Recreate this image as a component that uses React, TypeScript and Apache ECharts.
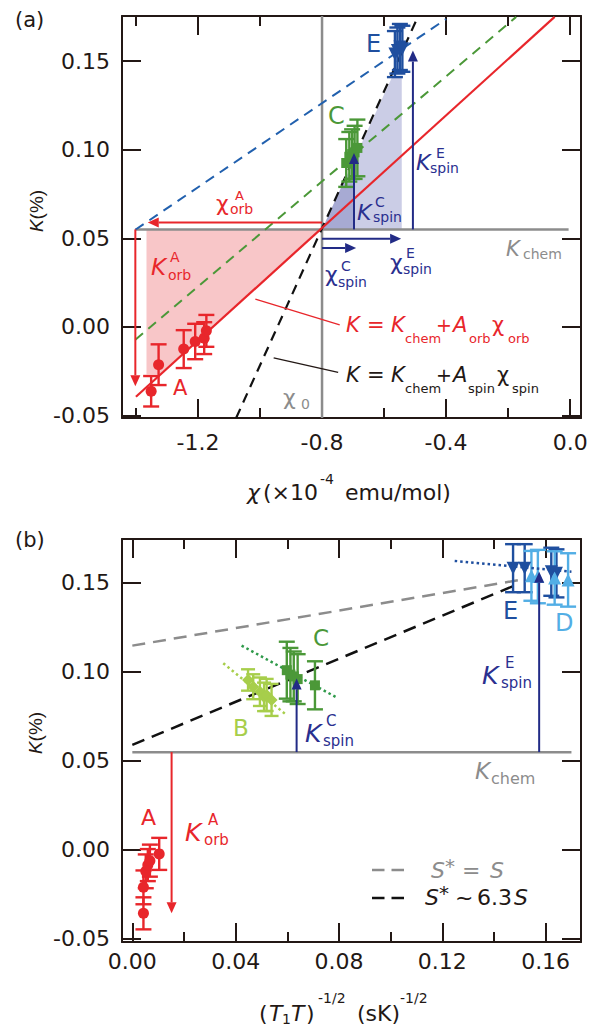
import React, { useEffect, useRef } from "react";
import * as echarts from "echarts";

const FONT = "'DejaVu Sans', 'Liberation Sans', sans-serif";
const FONT_R = "'Liberation Sans', Arial, sans-serif";
const INK = "#231815";
const RED = "#e8262b";
const PINK = "#f8c6c8";
const LAV = "#cbcde6";
const LAV_DARK = "#a7aad3";
const NAVY = "#222b86";
const NAVY_T = "#2a2f8f";
const BLUE_E = "#1f4f9f";
const BLUE_DASH = "#2160ae";
const LIGHT_BLUE = "#52aee5";
const GREEN = "#4b9838";
const GREEN_DOT = "#2f9a4a";
const LIME = "#a7ce4b";
const GRAY = "#8c8c8c";

// ---------------- panel (a): K vs chi ----------------
const chiRange = [-1.445, 0.035];
const kRangeA = [-0.0515, 0.1755];
const chiMajorTicks = [-1.2, -0.8, -0.4, 0.0];
const chiMinorTicks = [-1.4, -1.0, -0.6, -0.2];
const kTicks = [-0.05, 0.0, 0.05, 0.1, 0.15];

const chiA = [-1.351, -1.327, -1.246, -1.209, -1.18, -1.173];
const kA_a = [-0.0364, -0.0214, -0.0126, -0.0083, -0.0064, -0.0023];
const errA_a = [0.0086, 0.0115, 0.0107, 0.01, 0.009, 0.009];

const chiC = [-0.722, -0.712, -0.703, -0.695, -0.686];
const kC_a = [0.0925, 0.096, 0.0975, 0.0985, 0.101];
const errC_a = [0.0135, 0.014, 0.014, 0.015, 0.016];

const chiE = [-0.565, -0.557, -0.549, -0.541];
const kE_a = [0.154, 0.156, 0.158, 0.157];
const errE_a = [0.013, 0.013, 0.013, 0.013];

const redLineChi = [-1.4, -0.05];
const redLineK = [-0.0395, 0.175];
const spinLineChi = [-1.077, -0.495];
const spinLineK = [-0.0515, 0.1735];
const blueDashChi = [-1.402, -0.4];
const blueDashK = [0.0548, 0.1738];
const greenDashChi = [-1.402, -0.174];
const greenDashK = [-0.0073, 0.175];
const kchemLineChi = [-1.402, -0.005];
const kchemLineK = [0.055, 0.055];
const chi0LineChi = [-0.8, -0.8];
const chi0LineK = [-0.0515, 0.1755];
const orbPointerChi = [-1.015, -0.743];
const orbPointerK = [0.0156, 0.0011];
const spinPointerChi = [-0.956, -0.748];
const spinPointerK = [-0.0176, -0.0257];

const redShadeChi = [-1.366, -0.8, -1.319, -1.366];
const redShadeK = [0.055, 0.055, -0.027, -0.027];
const shadeEChi = [-0.8, -0.574, -0.543, -0.543];
const shadeEK = [0.055, 0.141, 0.141, 0.055];
const shadeCChi = [-0.8, -0.732, -0.695, -0.695];
const shadeCK = [0.055, 0.081, 0.081, 0.055];

const orbArrowA_x1 = [-0.8, -1.402];
const orbArrowA_y1 = [0.0589, 0.055];
const orbArrowA_x2 = [-1.362, -1.402];
const orbArrowA_y2 = [0.0589, -0.0336];
const spinArrowA_x1 = [-0.8, -0.8, -0.697, -0.507];
const spinArrowA_y1 = [0.0445, 0.0497, 0.055, 0.055];
const spinArrowA_x2 = [-0.69, -0.545, -0.697, -0.507];
const spinArrowA_y2 = [0.0445, 0.0497, 0.0982, 0.156];

// ---------------- panel (b): K vs (T1T)^-1/2 ----------------
const tRange = [-0.004, 0.1737];
const kRangeB = [-0.0517, 0.1747];
const tMajorTicks = [0.0, 0.04, 0.08, 0.12, 0.16];
const tMinorTicks = [0.02, 0.06, 0.1, 0.14];

const tA = [0.0043, 0.0043, 0.0052, 0.006, 0.0068, 0.0104];
const kA_b = [-0.0356, -0.021, -0.012, -0.0085, -0.006, -0.0022];
const errA_b = [0.009, 0.0095, 0.0095, 0.009, 0.009, 0.009];

const tB = [0.0448, 0.0468, 0.0494, 0.051, 0.052, 0.0539];
const kB = [0.0955, 0.0917, 0.0889, 0.086, 0.0871, 0.0843];
const errB = [0.006, 0.007, 0.008, 0.008, 0.009, 0.009];

const tC = [0.0598, 0.0612, 0.0625, 0.064, 0.0707];
const kC_b = [0.101, 0.0985, 0.0975, 0.096, 0.0925];
const errC_b = [0.016, 0.015, 0.014, 0.014, 0.0135];

const tE = [0.1474, 0.1519, 0.1622, 0.1642];
const kE_b = [0.1583, 0.1583, 0.1563, 0.1554];
const errE_b = [0.0135, 0.0135, 0.0135, 0.0135];

const tD = [0.1545, 0.157, 0.1635, 0.1687];
const kD = [0.154, 0.1536, 0.1528, 0.1517];
const errD = [0.014, 0.015, 0.015, 0.015];

const kchemLineT = [0.0, 0.17];
const kchemLineKb = [0.0549, 0.0549];
const grayDashT = [0.0, 0.15];
const grayDashK = [0.1148, 0.1517];
const blackDashT = [0.0, 0.15];
const blackDashK = [0.059, 0.1498];
const blueDotT = [0.1248, 0.17];
const blueDotK = [0.1624, 0.1563];
const greenDotT = [0.0423, 0.0797];
const greenDotK = [0.1148, 0.0852];
const limeDotT = [0.0352, 0.0597];
const limeDotK = [0.1049, 0.0758];

const orbArrowB_x1 = [0.0152];
const orbArrowB_y1 = [0.055];
const orbArrowB_x2 = [0.0152];
const orbArrowB_y2 = [-0.0356];
const spinArrowB_x1 = [0.0636, 0.1575];
const spinArrowB_y1 = [0.055, 0.055];
const spinArrowB_x2 = [0.0636, 0.1575];
const spinArrowB_y2 = [0.0964, 0.1563];

// ---------------- helpers ----------------
const axisLS = { color: INK, width: 2 };

function xAxes(gridIndex: number, range: number[], major: number[], minor: number[], dec: number, margin: number) {
  const base: any = {
    type: "value",
    gridIndex,
    min: range[0],
    max: range[1],
    splitLine: { show: false },
    axisLine: { show: true, onZero: false, lineStyle: axisLS },
  };
  const noLine = { show: false, onZero: false };
  const majorTick = { show: true, inside: true, length: 19, customValues: major, lineStyle: axisLS };
  const minorTick = { show: true, inside: true, length: 10, customValues: minor, lineStyle: axisLS };
  return [
    {
      ...base,
      position: "bottom",
      axisTick: majorTick,
      axisLabel: {
        show: true,
        customValues: major,
        formatter: (v: number) => v.toFixed(dec),
        margin,
        fontSize: 22,
        color: INK,
        fontFamily: FONT,
      },
    },
    { ...base, position: "bottom", axisLine: noLine, axisTick: minorTick, axisLabel: { show: false } },
    { ...base, position: "top", axisTick: majorTick, axisLabel: { show: false } },
    { ...base, position: "top", axisLine: noLine, axisTick: minorTick, axisLabel: { show: false } },
  ];
}

function yAxes(gridIndex: number, range: number[], ticks: number[]) {
  const base: any = {
    type: "value",
    gridIndex,
    min: range[0],
    max: range[1],
    splitLine: { show: false },
    axisLine: { show: true, onZero: false, lineStyle: axisLS },
    axisTick: { show: true, inside: true, length: 19, customValues: ticks, lineStyle: axisLS },
  };
  return [
    {
      ...base,
      position: "left",
      axisLabel: {
        show: true,
        customValues: ticks,
        formatter: (v: number) => v.toFixed(2),
        margin: 12,
        fontSize: 22,
        color: INK,
        fontFamily: FONT,
      },
    },
    { ...base, position: "right", axisLabel: { show: false } },
  ];
}

function line(xi: number, yi: number, xs: number[], ys: number[], color: string, width: number, type: any = "solid", z = 4) {
  return {
    type: "line",
    xAxisIndex: xi,
    yAxisIndex: yi,
    data: xs.map((x, i) => [x, ys[i]]),
    symbol: "none",
    silent: true,
    z,
    lineStyle: { color, width, type },
  };
}

function scatter(xi: number, yi: number, xs: number[], ys: number[], color: string, symbol: string, size: number, rotate = 0) {
  return {
    type: "scatter",
    xAxisIndex: xi,
    yAxisIndex: yi,
    data: xs.map((x, i) => [x, ys[i]]),
    symbol,
    symbolSize: size,
    symbolRotate: rotate,
    silent: true,
    z: 6,
    itemStyle: { color, opacity: 1 },
  };
}

function errorBars(xi: number, yi: number, xs: number[], ys: number[], es: number[], color: string, cap: number) {
  return {
    type: "custom",
    xAxisIndex: xi,
    yAxisIndex: yi,
    silent: true,
    z: 5,
    data: xs.map((x, i) => [x, ys[i], es[i]]),
    encode: { x: 0, y: 1 },
    renderItem: (_p: any, api: any) => {
      const x = api.value(0), y = api.value(1), e = api.value(2);
      const p1 = api.coord([x, y + e]);
      const p2 = api.coord([x, y - e]);
      const st = { stroke: color, lineWidth: 2.4 };
      return {
        type: "group",
        children: [
          { type: "line", shape: { x1: p1[0], y1: p1[1], x2: p2[0], y2: p2[1] }, style: st },
          { type: "line", shape: { x1: p1[0] - cap, y1: p1[1], x2: p1[0] + cap, y2: p1[1] }, style: st },
          { type: "line", shape: { x1: p2[0] - cap, y1: p2[1], x2: p2[0] + cap, y2: p2[1] }, style: st },
        ],
      };
    },
  };
}

function arrows(xi: number, yi: number, x1: number[], y1: number[], x2: number[], y2: number[], color: string, width: number) {
  return {
    type: "custom",
    xAxisIndex: xi,
    yAxisIndex: yi,
    silent: true,
    z: 7,
    data: x1.map((x, i) => [x, y1[i], x2[i], y2[i]]),
    encode: { x: [0, 2], y: [1, 3] },
    renderItem: (_p: any, api: any) => {
      const a = api.coord([api.value(0), api.value(1)]);
      const b = api.coord([api.value(2), api.value(3)]);
      const dx = b[0] - a[0], dy = b[1] - a[1];
      const len = Math.hypot(dx, dy) || 1;
      const ux = dx / len, uy = dy / len;
      const L = 11, W = 5;
      const bx = b[0] - ux * L, by = b[1] - uy * L;
      return {
        type: "group",
        children: [
          { type: "line", shape: { x1: a[0], y1: a[1], x2: bx, y2: by }, style: { stroke: color, lineWidth: width } },
          {
            type: "polygon",
            shape: { points: [[b[0], b[1]], [bx - uy * W, by + ux * W], [bx + uy * W, by - ux * W]] },
            style: { fill: color },
          },
        ],
      };
    },
  };
}

function shade(xi: number, yi: number, xs: number[], ys: number[], color: string, z = 1) {
  return {
    type: "custom",
    xAxisIndex: xi,
    yAxisIndex: yi,
    silent: true,
    z,
    data: xs.map((x, i) => [x, ys[i]]),
    encode: { x: 0, y: 1 },
    renderItem: (p: any, api: any) => {
      if (p.dataIndex !== 0) return { type: "group", children: [] };
      const pts = xs.map((x, i) => api.coord([x, ys[i]]));
      return { type: "polygon", shape: { points: pts }, style: { fill: color } };
    },
  };
}

function T(x: number, y: number, text: string, size: number, color: string, italic = false, family = FONT) {
  return {
    type: "text",
    z: 100,
    silent: true,
    style: {
      x,
      y,
      text,
      fill: color,
      fontSize: size,
      fontFamily: family,
      fontStyle: italic ? "italic" : "normal",
      align: "left",
      verticalAlign: "middle",
    },
  };
}

function yTitle(x: number, y: number) {
  return {
    type: "text",
    z: 100,
    x,
    y,
    rotation: Math.PI / 2,
    style: {
      text: "{i|K}(%)",
      fill: INK,
      fontSize: 19,
      fontFamily: FONT_R,
      align: "center",
      verticalAlign: "middle",
      rich: { i: { fontStyle: "italic", fontSize: 19, fontFamily: FONT_R, fill: INK } },
    },
  };
}

function buildOption() {
  const AX = 0, AY = 0, BX = 4, BY = 2;
  const texts: any[] = [
    // panel labels
    T(15, 20, "(a)", 21, INK),
    T(15, 540, "(b)", 21, INK),
    yTitle(36, 211),
    yTitle(35, 733),
    // x title (a)
    T(247, 492, "χ", 22, INK, true),
    T(263, 492, "(×10", 22, INK),
    T(320, 479, "-4", 14, INK),
    T(345, 492, "emu/mol)", 22, INK),
    // x title (b)
    T(259, 1013, "(", 22, INK),
    T(269, 1013, "T", 22, INK, true),
    T(282, 1019, "1", 14, INK),
    T(291, 1013, "T", 22, INK, true),
    T(306, 1013, ")", 22, INK),
    T(318, 998, "-1/2", 14, INK),
    T(357, 1013, "(sK)", 22, INK),
    T(400, 998, "-1/2", 14, INK),

    // ---- panel (a) annotations ----
    T(366, 44, "E", 24, BLUE_E),
    T(328, 116, "C", 24, GREEN),
    T(173, 388, "A", 21, RED),
    T(216, 203, "χ", 22, RED),
    T(235, 195, "A", 13, RED),
    T(230, 209, "orb", 14, RED),
    T(151, 267, "K", 23, RED, true),
    T(170, 257, "A", 14, RED),
    T(168, 275, "orb", 14, RED),
    T(357, 212, "K", 22, NAVY_T, true),
    T(375, 202, "C", 14, NAVY_T),
    T(373, 217, "spin", 14, NAVY_T),
    T(416, 162, "K", 22, NAVY_T, true),
    T(436, 153, "E", 14, NAVY_T),
    T(430, 168, "spin", 14, NAVY_T),
    T(325, 274, "χ", 22, NAVY_T),
    T(341, 266, "C", 14, NAVY_T),
    T(338, 282, "spin", 14, NAVY_T),
    T(390, 262, "χ", 22, NAVY_T),
    T(406, 253, "E", 14, NAVY_T),
    T(403, 269, "spin", 14, NAVY_T),
    T(506, 249, "K", 21, GRAY, true),
    T(523, 254, "chem", 14, GRAY),
    T(283, 397, "χ", 22, GRAY),
    T(301, 404, "0", 14, GRAY),
    // red equation
    T(346, 325, "K", 21, RED, true),
    T(367, 325, "=", 21, RED),
    T(391, 325, "K", 21, RED, true),
    T(405, 338, "chem", 13, RED),
    T(436, 325, "+", 19, RED),
    T(453, 325, "A", 21, RED, true),
    T(469, 338, "orb", 13, RED),
    T(492, 325, "χ", 21, RED),
    T(508, 338, "orb", 13, RED),
    // black equation
    T(346, 375, "K", 21, INK, true),
    T(367, 375, "=", 21, INK),
    T(391, 375, "K", 21, INK, true),
    T(405, 388, "chem", 13, INK),
    T(436, 375, "+", 19, INK),
    T(453, 375, "A", 21, INK, true),
    T(468, 388, "spin", 13, INK),
    T(497, 375, "χ", 21, INK),
    T(512, 388, "spin", 13, INK),

    // ---- panel (b) annotations ----
    T(313, 638, "C", 23, GREEN),
    T(233, 728, "B", 23, LIME),
    T(503, 611, "E", 24, BLUE_E),
    T(555, 623, "D", 24, LIGHT_BLUE),
    T(305, 733, "K", 25, NAVY_T, true),
    T(326, 721, "C", 15, NAVY_T),
    T(323, 741, "spin", 15, NAVY_T),
    T(482, 675, "K", 25, NAVY_T, true),
    T(505, 663, "E", 15, NAVY_T),
    T(501, 683, "spin", 15, NAVY_T),
    T(475, 771, "K", 23, GRAY, true),
    T(491, 778, "chem", 16, GRAY),
    T(141, 817, "A", 22, RED),
    T(185, 832, "K", 25, RED, true),
    T(208, 820, "A", 15, RED),
    T(204, 840, "orb", 15, RED),
    // legend
    {
      type: "line",
      z: 100,
      shape: { x1: 372, y1: 870, x2: 404, y2: 870 },
      style: { stroke: GRAY, lineWidth: 2.5, lineDash: [12.5, 7] },
    },
    {
      type: "line",
      z: 100,
      shape: { x1: 372, y1: 898, x2: 404, y2: 898 },
      style: { stroke: "#111", lineWidth: 2.5, lineDash: [12.5, 7] },
    },
    T(431, 870, "S", 22, GRAY, true),
    T(445, 866, "*", 20, GRAY),
    T(462, 870, "=", 22, GRAY),
    T(490, 870, "S", 22, GRAY, true),
    T(425, 897, "S", 22, INK, true),
    T(439, 893, "*", 20, INK),
    T(455, 897, "~", 22, INK),
    T(477, 897, "6.3", 22, INK),
    T(514, 897, "S", 22, INK, true),
  ];

  return {
    animation: false,
    backgroundColor: "#ffffff",
    grid: [
      { left: 122, top: 16, width: 459, height: 402, containLabel: false },
      { left: 122, top: 539, width: 459, height: 403, containLabel: false },
    ],
    xAxis: [
      ...xAxes(0, chiRange, chiMajorTicks, chiMinorTicks, 1, 13),
      ...xAxes(1, tRange, tMajorTicks, tMinorTicks, 2, 8),
    ],
    yAxis: [...yAxes(0, kRangeA, kTicks), ...yAxes(1, kRangeB, kTicks)],
    series: [
      // ----- panel (a) -----
      shade(AX, AY, redShadeChi, redShadeK, PINK, 1),
      shade(AX, AY, shadeEChi, shadeEK, LAV, 1),
      shade(AX, AY, shadeCChi, shadeCK, LAV_DARK, 2),
      line(AX, AY, chi0LineChi, chi0LineK, GRAY, 2.5, "solid", 3),
      line(AX, AY, kchemLineChi, kchemLineK, GRAY, 2.5, "solid", 3),
      line(AX, AY, blueDashChi, blueDashK, BLUE_DASH, 2, [10, 7]),
      line(AX, AY, greenDashChi, greenDashK, GREEN, 2, [10, 7]),
      line(AX, AY, spinLineChi, spinLineK, "#111111", 2.2, [10, 7]),
      line(AX, AY, redLineChi, redLineK, RED, 2.2),
      line(AX, AY, orbPointerChi, orbPointerK, RED, 1.3),
      line(AX, AY, spinPointerChi, spinPointerK, INK, 1.3),
      errorBars(AX, AY, chiA, kA_a, errA_a, RED, 8),
      scatter(AX, AY, chiA, kA_a, RED, "circle", 11),
      errorBars(AX, AY, chiC, kC_a, errC_a, GREEN, 8),
      scatter(AX, AY, chiC, kC_a, GREEN, "rect", 10),
      errorBars(AX, AY, chiE, kE_a, errE_a, BLUE_E, 8),
      scatter(AX, AY, chiE, kE_a, BLUE_E, "triangle", 13, 180),
      arrows(AX, AY, orbArrowA_x1, orbArrowA_y1, orbArrowA_x2, orbArrowA_y2, RED, 2),
      arrows(AX, AY, spinArrowA_x1, spinArrowA_y1, spinArrowA_x2, spinArrowA_y2, NAVY, 2),

      // ----- panel (b) -----
      line(BX, BY, kchemLineT, kchemLineKb, GRAY, 2.5, "solid", 3),
      line(BX, BY, grayDashT, grayDashK, GRAY, 2.5, [13, 8]),
      line(BX, BY, blackDashT, blackDashK, "#111111", 2.5, [13, 8]),
      line(BX, BY, limeDotT, limeDotK, LIME, 2.5, [2.5, 3]),
      line(BX, BY, greenDotT, greenDotK, GREEN_DOT, 2.5, [2.5, 3]),
      errorBars(BX, BY, tA, kA_b, errA_b, RED, 8),
      scatter(BX, BY, tA, kA_b, RED, "circle", 11),
      errorBars(BX, BY, tB, kB, errB, LIME, 7),
      scatter(BX, BY, tB, kB, LIME, "diamond", 12),
      errorBars(BX, BY, tC, kC_b, errC_b, GREEN, 8),
      scatter(BX, BY, tC, kC_b, GREEN, "rect", 10),
      errorBars(BX, BY, tE, kE_b, errE_b, BLUE_E, 8),
      scatter(BX, BY, tE, kE_b, BLUE_E, "triangle", 13, 180),
      errorBars(BX, BY, tD, kD, errD, LIGHT_BLUE, 8),
      scatter(BX, BY, tD, kD, LIGHT_BLUE, "triangle", 13),
      line(BX, BY, blueDotT, blueDotK, BLUE_E, 2.5, [2.5, 3], 8),
      arrows(BX, BY, orbArrowB_x1, orbArrowB_y1, orbArrowB_x2, orbArrowB_y2, RED, 2),
      arrows(BX, BY, spinArrowB_x1, spinArrowB_y1, spinArrowB_x2, spinArrowB_y2, NAVY, 2),
    ],
    graphic: texts,
  };
}

export default function App() {
  const ref = useRef<HTMLDivElement>(null);
  useEffect(() => {
    document.body.style.margin = "0";
    const chart = echarts.init(ref.current as HTMLDivElement, null, { renderer: "svg" });
    chart.setOption(buildOption() as any);
    return () => chart.dispose();
  }, []);
  return <div ref={ref} style={{ width: 606, height: 1026, background: "#fff" }} />;
}
